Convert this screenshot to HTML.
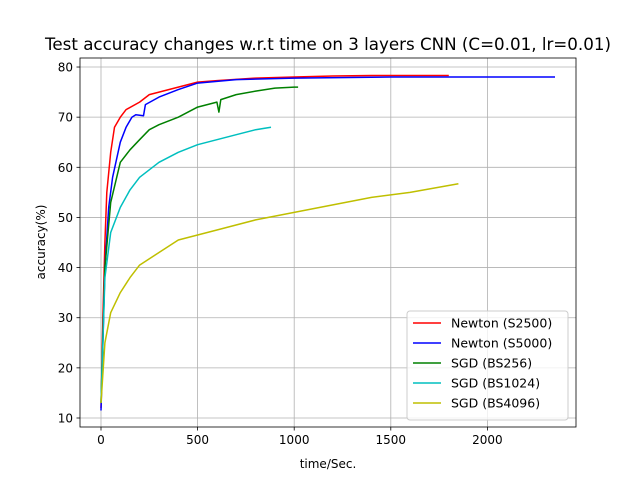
<!DOCTYPE html>
<html><head><meta charset="utf-8"><style>
body{margin:0;background:#fff;font-family:"Liberation Sans","DejaVu Sans",sans-serif}
svg text{font-family:"DejaVu Sans","Liberation Sans",sans-serif}
</style></head><body>
<svg id="chart" width="640" height="480" xmlns="http://www.w3.org/2000/svg">
<rect width="640" height="480" fill="#fff"/>
<text x="328" y="50" text-anchor="middle" font-size="16.7">Test accuracy changes w.r.t time on 3 layers CNN (C=0.01, lr=0.01)</text>
<g id="grid"></g><g id="series"></g><g id="axes"></g>
<text x="328" y="468" text-anchor="middle" font-size="12">time/Sec.</text>
<text transform="translate(45,242) rotate(-90)" text-anchor="middle" font-size="12">accuracy(%)</text>
<g id="legend"></g>
</svg>
<script>
const xTicks=[0,500,1000,1500,2000];
const yTicks=[10,20,30,40,50,60,70,80];
const seriesNames=["Newton (S2500)","Newton (S5000)","SGD (BS256)","SGD (BS1024)","SGD (BS4096)"];
const seriesColors=["#ff0000","#0000ff","#008000","#00bfbf","#bfbf00"];
const newtonS2500T=[0,10,20,30,50,70,100,130,200,250,300,400,500,600,800,1000,1200,1400,1600,1800];
const newtonS2500A=[12,30,45,55,63,68,70,71.5,73,74.5,75,76,77,77.3,77.8,78,78.2,78.3,78.3,78.3];
const newtonS5000T=[0,10,20,40,60,100,130,160,180,220,230,300,400,500,700,1000,1500,2000,2350];
const newtonS5000A=[11.5,25,40,52,58,65,68,70,70.5,70.3,72.5,74,75.5,76.8,77.5,77.8,78,78,78];
const sgd256T=[0,20,50,100,150,200,250,300,400,500,600,610,620,700,800,900,1000,1020];
const sgd256A=[13,40,53,61,63.5,65.5,67.5,68.5,70,72,73,71,73.5,74.5,75.2,75.8,76,76];
const sgd1024T=[0,20,50,100,150,200,300,400,500,600,700,800,880];
const sgd1024A=[13,38,47,52,55.5,58,61,63,64.5,65.5,66.5,67.5,68];
const sgd4096T=[0,20,50,100,150,200,300,400,500,600,800,1000,1200,1400,1600,1850];
const sgd4096A=[13,25,31,35,38,40.5,43,45.5,46.5,47.5,49.5,51,52.5,54,55,56.7];
const allT=[newtonS2500T,newtonS5000T,sgd256T,sgd1024T,sgd4096T];
const allA=[newtonS2500A,newtonS5000A,sgd256A,sgd1024A,sgd4096A];
const L=80,R=576,T=58,B=427;
const xs=v=>101+v*0.1932;
const ys=v=>418-(v-10)*5.014;
const NS="http://www.w3.org/2000/svg";
function mk(tag,attrs,parent){const e=document.createElementNS(NS,tag);for(const k in attrs)e.setAttribute(k,attrs[k]);parent.appendChild(e);return e;}
const grid=document.getElementById('grid'),axes=document.getElementById('axes'),ser=document.getElementById('series'),leg=document.getElementById('legend');
xTicks.forEach(t=>{const x=xs(t);
const g=mk('line',{x1:x,x2:x,y1:T,y2:B,stroke:'#b0b0b0','stroke-width':0.8},grid);


mk('line',{x1:x,x2:x,y1:B,y2:B+3.5,stroke:'#000','stroke-width':0.8},axes);
const tx=mk('text',{x:x,y:B+17,'text-anchor':'middle','font-size':12},axes);tx.textContent=t;

});
yTicks.forEach(t=>{const y=ys(t);
const g=mk('line',{x1:L,x2:R,y1:y,y2:y,stroke:'#b0b0b0','stroke-width':0.8},grid);


mk('line',{x1:L-3.5,x2:L,y1:y,y2:y,stroke:'#000','stroke-width':0.8},axes);
const tx=mk('text',{x:L-7,y:y+4.5,'text-anchor':'end','font-size':12},axes);tx.textContent=t;

});
const frame=mk('rect',{x:L,y:T,width:R-L,height:B-T,fill:'none',stroke:'#000','stroke-width':0.8},axes);


allT.forEach((ts,i)=>{const d=ts.map((t,j)=>(j?'L':'M')+xs(t).toFixed(1)+','+ys(allA[i][j]).toFixed(1)).join('');
const p=mk('path',{d:d,fill:'none',stroke:seriesColors[i],'stroke-width':1.5,'stroke-linejoin':'round'},ser);

});
const box=mk('rect',{x:407,y:311,width:161,height:109,rx:3,fill:'#fff','fill-opacity':0.8,stroke:'#ccc'},leg);


seriesNames.forEach((n,i)=>{const y=323+i*20;
const g=mk('g',{},leg);


mk('line',{x1:413,x2:441,y1:y,y2:y,stroke:seriesColors[i],'stroke-width':1.5},g);
const tx=mk('text',{x:451,y:y+4.5,'font-size':12.5},g);tx.textContent=n;});
</script>
</body></html>
